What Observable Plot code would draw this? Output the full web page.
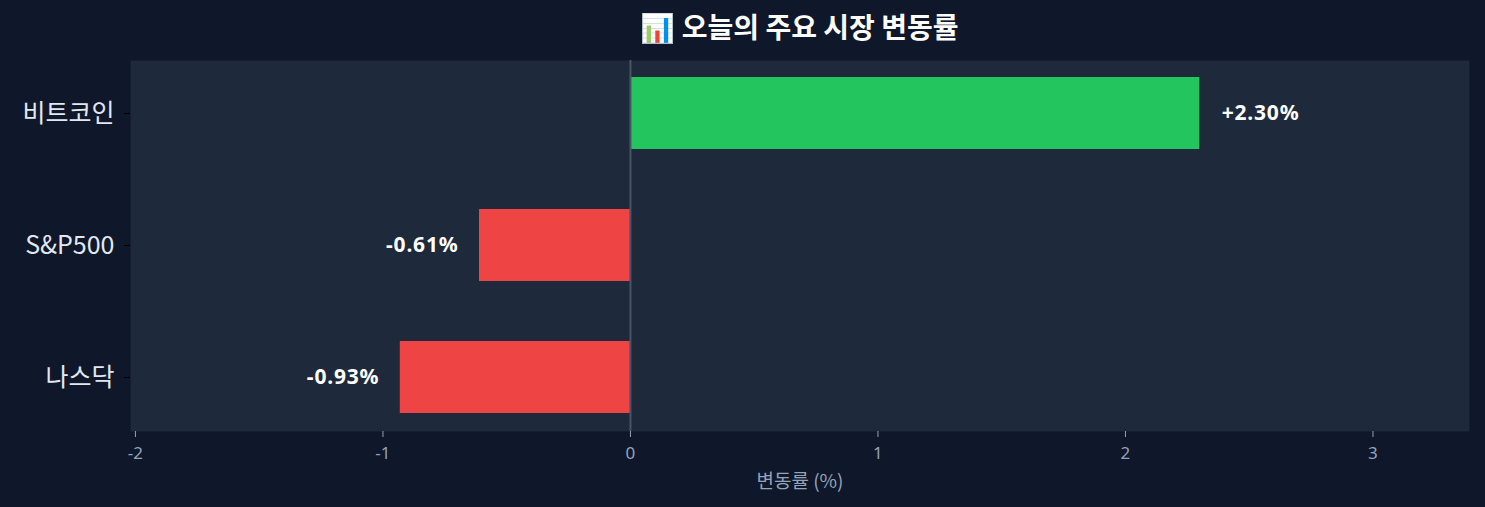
<!DOCTYPE html>
<html>
<head>
<meta charset="utf-8">
<script src="https://cdn.jsdelivr.net/npm/d3@7"></script>
<script src="https://cdn.jsdelivr.net/npm/@observablehq/plot@0.6"></script>
<style>
  html, body { margin: 0; padding: 0; background: #0f172a; }
  body { width: 1485px; height: 507px; overflow: hidden; font-family: "Noto Sans CJK KR", "Noto Sans", sans-serif; }
  #title { height: 60px; margin-left: 130px; width: 1339px; text-align: center; color: #ffffff; font-weight: bold; font-size: 28px; line-height: 52px; }
  svg { display: block; }
</style>
</head>
<body>
<div id="title">📊 오늘의 주요 시장 변동률</div>
<div id="chart"></div>
<script>
const categories = ["비트코인", "S&P500", "나스닥"];
const changes = [2.30, -0.61, -0.93];
const labels = ["+2.30%", "-0.61%", "-0.93%"];
const xTicks = [-2, -1, 0, 1, 2, 3];
const xDomain = [-2.02, 3.39];

const data = categories.map((c, i) => ({ name: c, value: changes[i], label: labels[i] }));

const chart = Plot.plot({
  width: 1485,
  height: 447,
  marginTop: 0,
  marginBottom: 76,
  marginLeft: 130,
  marginRight: 16,
  style: { background: "transparent", fontFamily: "'Noto Sans CJK KR', 'Noto Sans', sans-serif" },
  x: { domain: xDomain, ticks: xTicks, label: null },
  y: { domain: categories, paddingInner: 0.453, paddingOuter: 0.1265, align: 0.5, label: null },
  marks: [
    Plot.frame({ fill: "#1e293b", stroke: null }),
    Plot.barX(data, { y: "name", x: "value", fill: d => d.value >= 0 ? "#22c55e" : "#ef4444" }),
    Plot.ruleX([0], { stroke: "#475569", strokeWidth: 2 }),
    Plot.text(data, {
      y: "name", x: "value", text: "label",
      textAnchor: "start",
      fill: "#ffffff", fontWeight: "bold", fontSize: 21, fontFamily: "'Noto Sans', sans-serif",
      filter: d => d.value >= 0, dx: 22
    }),
    Plot.text(data, {
      y: "name", x: "value", text: "label",
      textAnchor: "end",
      fill: "#ffffff", fontWeight: "bold", fontSize: 21, fontFamily: "'Noto Sans', sans-serif",
      filter: d => d.value < 0, dx: -21
    }),
    Plot.axisX({ ticks: xTicks, tickFormat: d => String(d), color: "#94a3b8", stroke: "#94a3b8", tickSize: 6, tickPadding: 9, fontSize: 17, fontFamily: "'Noto Sans', sans-serif", label: null }),
    Plot.text(["변동률 (%)"], { frameAnchor: "bottom", dy: 56, fill: "#94a3b8", fontSize: 19 }),
    Plot.axisY({ color: "#e2e8f0", stroke: "#000000", tickSize: 6, tickPadding: 10, fontSize: 25, label: null })
  ]
});
document.getElementById("chart").appendChild(chart);
// slight letter spacing for value labels
chart.querySelectorAll("text").forEach(t => {
  if (/%$/.test(t.textContent) && /^[+-]/.test(t.textContent)) t.setAttribute("letter-spacing", "0.8");
});
</script>
</body>
</html>
